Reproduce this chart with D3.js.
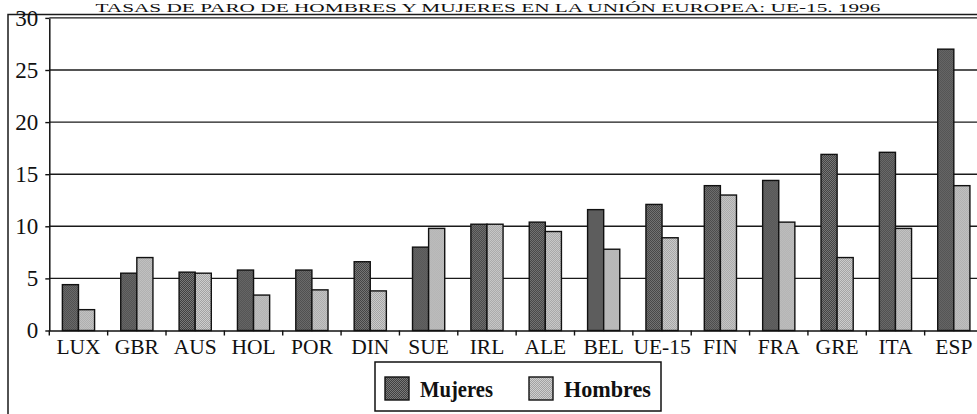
<!DOCTYPE html>
<html>
<head>
<meta charset="utf-8">
<script src="https://cdn.jsdelivr.net/npm/d3@7/dist/d3.min.js"></script>
<style>
  html, body { margin: 0; padding: 0; background: #fff; overflow: hidden; }
  svg { display: block; }
  text { font-family: "Liberation Serif", "DejaVu Serif", serif; fill: #111; }
</style>
</head>
<body>
<svg id="chart" width="977" height="414"></svg>
<script>
const title = "TASAS DE PARO DE HOMBRES Y MUJERES EN LA UNIÓN EUROPEA: UE-15. 1996";
const categories = ["LUX","GBR","AUS","HOL","POR","DIN","SUE","IRL","ALE","BEL","UE-15","FIN","FRA","GRE","ITA","ESP"];
const seriesNames = ["Mujeres","Hombres"];
const mujeres = [4.4, 5.5, 5.6, 5.8, 5.8, 6.6, 8.0, 10.2, 10.4, 11.6, 12.1, 13.9, 14.4, 16.9, 17.1, 27.0];
const hombres = [2.0, 7.0, 5.5, 3.4, 3.9, 3.8, 9.8, 10.2, 9.5, 7.8, 8.9, 13.0, 10.4, 7.0, 9.8, 13.9];
const yTicks = [0, 5, 10, 15, 20, 25, 30];

const svg = d3.select("#chart");

// patterns (dithered look)
const defs = svg.append("defs");
function checker(id, c1, c2) {
  const p = defs.append("pattern").attr("id", id).attr("patternUnits", "userSpaceOnUse")
    .attr("width", 2).attr("height", 2);
  p.append("rect").attr("width", 2).attr("height", 2).attr("fill", c1);
  p.append("rect").attr("width", 1).attr("height", 1).attr("fill", c2);
  p.append("rect").attr("x", 1).attr("y", 1).attr("width", 1).attr("height", 1).attr("fill", c2);
}
checker("patM", "#404040", "#7a7a7a");
checker("patH", "#a2a2a2", "#cfcfcf");
const fills = { "Mujeres": "url(#patM)", "Hombres": "url(#patH)" };

const left = 49.3, right = 983, y0 = 330.5, y30 = 17.9;
const x = d3.scaleBand().domain(categories).range([left, right]).padding(0);
const y = d3.scaleLinear().domain([0, 30]).range([y0, y30]);
const bw = 16.1;
const xs = d3.scaleBand().domain(seriesNames)
  .range([x.bandwidth() / 2 - bw, x.bandwidth() / 2 + bw]).padding(0);

// Title (small, at the very top)
svg.append("text").attr("x", 488).attr("y", 11.5).attr("text-anchor", "middle")
  .attr("font-size", 13).attr("textLength", 785).attr("lengthAdjust", "spacingAndGlyphs")
  .text(title);

// outer frame
svg.append("rect").attr("x", 8).attr("y", 14.5).attr("width", 1000).attr("height", 450)
  .attr("fill", "none").attr("stroke", "#1a1a1a").attr("stroke-width", 1.5);

// gridlines
svg.append("g").selectAll("line").data(yTicks.filter(d => d > 0)).join("line")
  .attr("x1", left).attr("x2", right)
  .attr("y1", d => y(d)).attr("y2", d => y(d))
  .attr("stroke", "#1a1a1a").attr("stroke-width", 1.4);

// bars
const data = categories.map((c, i) => ({ cat: c, vals: [
  { s: "Mujeres", v: mujeres[i] }, { s: "Hombres", v: hombres[i] } ] }));
const groups = svg.append("g").selectAll("g").data(data).join("g")
  .attr("transform", d => `translate(${x(d.cat)},0)`);
groups.selectAll("rect").data(d => d.vals).join("rect")
  .attr("x", d => xs(d.s)).attr("width", xs.bandwidth())
  .attr("y", d => y(d.v)).attr("height", d => y(0) - y(d.v))
  .attr("fill", d => fills[d.s]).attr("stroke", "#111").attr("stroke-width", 1.4);

// y axis
const yAxis = svg.append("g").attr("transform", `translate(${left},0)`)
  .call(d3.axisLeft(y).tickValues(yTicks).tickSizeInner(4).tickSizeOuter(0).tickPadding(7));
yAxis.select(".domain").attr("stroke", "#111").attr("stroke-width", 1.5);
yAxis.selectAll(".tick line").attr("stroke", "#111").attr("stroke-width", 1.4);
yAxis.selectAll("text").attr("font-size", 23).attr("font-family", "Liberation Serif").attr("fill", "#111");

// x axis baseline and labels
const xAxis = svg.append("g").attr("transform", `translate(0,${y0})`)
  .call(d3.axisBottom(x).tickSize(0).tickPadding(8));
xAxis.select(".domain").attr("stroke", "#111").attr("stroke-width", 1.5);
xAxis.selectAll("text").attr("font-size", 21.5).attr("font-family", "Liberation Serif").attr("fill", "#111");
// boundary ticks
svg.append("g").selectAll("line").data(categories).join("line")
  .attr("x1", d => x(d)).attr("x2", d => x(d))
  .attr("y1", y0).attr("y2", y0 + 5)
  .attr("stroke", "#111").attr("stroke-width", 1.4);

// legend
const lg = svg.append("g");
lg.append("rect").attr("x", 375).attr("y", 362).attr("width", 286).attr("height", 49)
  .attr("fill", "#fff").attr("stroke", "#111").attr("stroke-width", 1.5);
const lx = { "Mujeres": 385, "Hombres": 529 };
const lw = { "Mujeres": 73, "Hombres": 87 };
seriesNames.forEach(s => {
  lg.append("rect").attr("x", lx[s]).attr("y", 377).attr("width", 24).attr("height", 23)
    .attr("fill", fills[s]).attr("stroke", "#111").attr("stroke-width", 1.4);
  lg.append("text").attr("x", lx[s] + 35).attr("y", 397)
    .attr("font-size", 23).attr("font-weight", "bold")
    .attr("textLength", lw[s]).attr("lengthAdjust", "spacingAndGlyphs").text(s);
});
</script>
</body>
</html>
